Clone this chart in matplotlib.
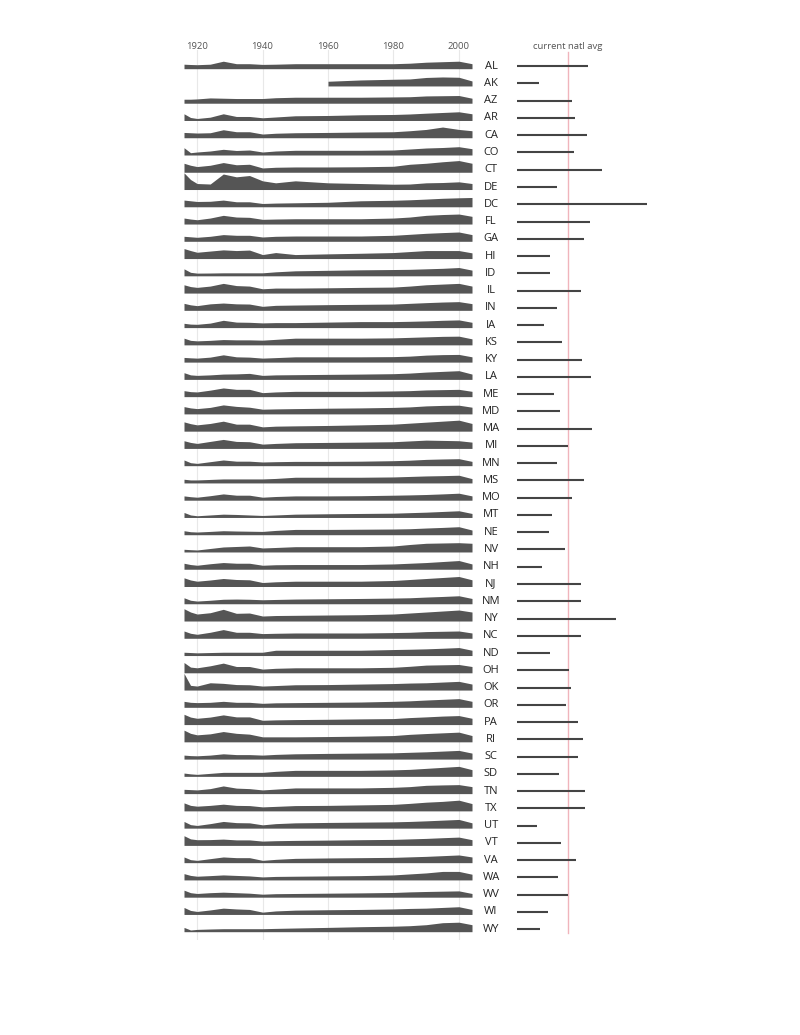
import numpy as np
import matplotlib
matplotlib.use("Agg")
import matplotlib.pyplot as plt
import matplotlib.transforms as mtransforms

nan = np.nan
states = ["AL","AK","AZ","AR","CA","CO","CT","DE","DC","FL","GA","HI","ID","IL","IN","IA","KS",
          "KY","LA","ME","MD","MA","MI","MN","MS","MO","MT","NE","NV","NH","NJ","NM","NY","NC",
          "ND","OH","OK","OR","PA","RI","SC","SD","TN","TX","UT","VT","VA","WA","WV","WI","WY"]

years = [1916, 1918, 1920, 1924, 1928, 1932, 1936, 1940, 1944, 1950, 1960, 1970, 1980, 1985, 1990, 1995, 2000, 2004]

history = {
    "AL": [4.5, 4.2, 4, 4.5, 7.5, 5, 5, 4.3, 4.5, 5, 5, 5, 5, 5.5, 6.5, 7, 7.5, 5],
    "AK": [nan]*10 + [4.7, 6, 6.7, 7, 8.5, 9, 8.7, 5],
    "AZ": [4, 4, 4.3, 5.3, 5, 4.7, 4.7, 4.7, 5.5, 6, 6, 6, 6.3, 6.5, 7.3, 7.5, 7.7, 5],
    "AR": [6.7, 3, 2, 3.3, 6.7, 4, 4, 2.7, 3.5, 4.7, 5, 5.7, 6, 6.5, 7.3, 8, 8.7, 6.7],
    "CA": [5.3, 5, 4.7, 5, 8, 6, 6, 3.7, 4.5, 5, 5.3, 5.7, 6, 7, 8.3, 10.7, 8.3, 7],
    "CO": [7.3, 2.3, 3, 4, 5.7, 4.5, 5, 3, 4, 4.7, 4.7, 4.7, 5, 6, 7, 7.5, 8.3, 6.3],
    "CT": [9, 7, 5.7, 7, 9.7, 7.5, 8, 4.3, 5, 5.3, 5.3, 5.5, 6, 8, 9, 10.5, 11.7, 9],
    "DE": [16.7, 10, 6, 5.5, 15.5, 12.7, 14, 8.7, 6.7, 8.7, 6.7, 6, 5.3, 5.5, 6.7, 7, 7.7, 6],
    "DC": [6.7, 6, 5.3, 5.5, 6.7, 5, 5, 3.3, 3.7, 4, 4.5, 6, 6.5, 7, 7.7, 8.5, 9, 9.3],
    "FL": [6, 5, 4.3, 6, 8.7, 7, 6.7, 4.7, 5, 5.3, 5.3, 5.3, 6, 7, 8.7, 9.5, 10, 7.7],
    "GA": [5, 4.5, 4, 5, 6.7, 6, 6, 4.3, 5, 5.3, 5.3, 5.3, 6, 7, 8, 8.7, 9.3, 6.7],
    "HI": [10, 8, 6.3, 7.5, 8.7, 8, 8.5, 4, 6, 4, 4.7, 5.3, 6, 7, 8, 8, 8, 5.7],
    "ID": [7, 3.5, 2.7, 2.8, 3, 3, 3, 3, 4, 5, 5.5, 6, 6.3, 6.5, 7, 7.5, 8.3, 5.7],
    "IL": [8.3, 6.5, 5.7, 7, 9.7, 7.5, 7, 4.3, 5, 5, 5.3, 5.7, 6, 7, 8.3, 9, 9.7, 7],
    "IN": [7, 5.5, 4.7, 6.5, 7.3, 6.5, 6.3, 4, 5, 5.3, 5.7, 6, 6.3, 7, 7.7, 8.3, 8.7, 6.7],
    "IA": [4.3, 3.5, 3.3, 4.5, 7.3, 5.5, 5.3, 4.7, 5, 5, 5.5, 6, 6, 6.3, 6.7, 7.3, 7.7, 5.3],
    "KS": [6.7, 4.5, 4, 4.5, 5.3, 5, 5, 4.7, 5.5, 6.7, 6.7, 6.7, 7, 7.5, 8, 8.5, 8.7, 6],
    "KY": [4.7, 4.3, 4, 5, 7.3, 5.3, 5, 4, 4.5, 5.3, 5.3, 5.3, 5.5, 6, 7, 7.5, 7.7, 5.3],
    "LA": [6.7, 4.5, 4, 4.5, 5.3, 5.5, 6, 4, 4.5, 4.7, 5, 5.3, 5.7, 6.3, 7.3, 8, 8.7, 5.3],
    "ME": [6, 5, 4.7, 6.5, 8.7, 7.3, 7.3, 4, 4.7, 5.3, 5.3, 5.3, 5.7, 6, 6.7, 7, 7.3, 5.3],
    "MD": [7.3, 6, 5.3, 6.5, 9, 7.5, 6.7, 4.7, 5, 5.3, 5.7, 6, 6.5, 7, 8, 8.5, 8.7, 6.7],
    "MA": [9.3, 7.5, 6.3, 7.7, 10, 7, 7, 4.3, 5, 5.3, 5.7, 6.3, 7, 8, 9, 10, 11, 7.7],
    "MI": [7.7, 6, 5, 7, 9, 7, 6.7, 4.3, 5, 5.7, 6, 6.3, 6.7, 7.5, 8.3, 8, 7.7, 6.3],
    "MN": [5.7, 3, 2.3, 4, 5.7, 4.5, 4.5, 3.7, 4, 4.3, 4.3, 4.5, 5, 5.5, 6.3, 6.7, 7, 4.3],
    "MS": [3.7, 3, 3, 3.5, 4, 4, 4, 4, 4.5, 5.7, 5.7, 5.7, 6, 6.5, 7, 7.3, 7.7, 4.3],
    "MO": [4.3, 3.5, 3, 4.5, 6.3, 5, 5, 3, 3.7, 4.3, 4.3, 4.5, 5, 5.3, 5.7, 6.3, 7, 4.3],
    "MT": [5, 2.5, 1.7, 2.5, 3.3, 3, 2.5, 2, 2.5, 3.3, 3.7, 4, 4.3, 4.8, 5.3, 6, 6.7, 4],
    "NE": [4, 3, 2.7, 3.3, 4, 3.7, 3.5, 3.3, 4.3, 5.3, 5.3, 5.5, 5.7, 6, 6.7, 7.3, 8, 4.7],
    "NV": [2.7, 2.3, 2, 3.5, 5, 5.5, 6, 4, 4.5, 5.3, 5.3, 5.3, 6, 7.5, 8.7, 9, 9.3, 8.7],
    "NH": [6, 4.7, 4, 5.5, 6.7, 6, 6, 4, 4.5, 4.7, 4.7, 4.7, 5.3, 6, 6.7, 7.7, 8.7, 5.3],
    "NJ": [8.7, 6.5, 5.3, 6.5, 8, 7, 6.7, 4, 4.7, 5.3, 5.3, 5.3, 6, 7, 8, 9, 10, 6.7],
    "NM": [6, 3.5, 2.7, 3.5, 4.5, 4.7, 4.5, 4, 4.3, 4.7, 5, 5.3, 5.7, 6, 6.7, 7.3, 8, 5.3],
    "NY": [12.3, 9, 7, 8.3, 11.7, 7.7, 8, 5, 5.5, 5.7, 6, 6.3, 7, 8, 9, 10, 11, 9],
    "NC": [7.3, 5, 4, 6, 8.7, 6, 6, 4.7, 5, 5.3, 5.3, 5.3, 5.7, 6, 6.7, 7, 7.3, 5.3],
    "ND": [3.3, 3, 2.7, 3, 3.3, 3.3, 3.3, 3.3, 5.3, 5.3, 5.3, 5.3, 6, 6.3, 6.7, 7.3, 8, 5.3],
    "OH": [10.3, 5.7, 5, 7, 9.7, 6.3, 6.3, 3.7, 4.5, 5, 5, 5, 5.5, 6.5, 7.7, 8, 8.3, 6.3],
    "OK": [16.7, 4.7, 4, 7.3, 6.7, 5.5, 5.3, 4, 4.5, 5.3, 5.5, 6, 6.5, 7, 7.3, 8, 8.7, 6],
    "OR": [6, 5, 4.7, 5, 6, 5, 5, 4, 4.5, 4.7, 5, 5.3, 6, 6.5, 7.3, 8, 8.7, 6],
    "PA": [10.3, 7.5, 6.3, 7.5, 9.7, 7.7, 7.7, 4.3, 4.7, 5, 5.3, 5.7, 6, 7, 7.7, 8.5, 9, 6.3],
    "RI": [11.7, 8.5, 7, 8, 10.3, 8.5, 7.7, 5, 5, 5, 5.3, 5.7, 6.3, 7.5, 8.3, 9, 9.7, 6.3],
    "SC": [4, 3.5, 3.3, 4, 5.3, 4.5, 4.5, 4, 4.7, 5.3, 5.7, 6, 6.3, 6.8, 7.3, 8, 8.7, 6],
    "SD": [3.3, 2.5, 2, 3, 4, 4, 4, 4, 5, 6, 6, 6, 6.5, 7, 8, 9, 10, 6.7],
    "TN": [4.3, 4, 3.7, 5, 7.7, 5.5, 5, 3.7, 4.5, 5.7, 5.7, 5.7, 6.3, 7, 8.3, 8.7, 9, 7],
    "TX": [8, 5.5, 4.7, 5.5, 6.7, 5.5, 5.3, 4, 4.5, 5.3, 5.5, 6, 6.5, 7.5, 8.7, 9.5, 10.7, 7.3],
    "UT": [6.7, 3.5, 2.7, 4.5, 6.7, 5.5, 5.3, 3.3, 4.5, 5.3, 5.7, 6, 6.3, 6.7, 7.3, 8, 8.7, 5.3],
    "VT": [9.7, 6.5, 5.7, 5.8, 6.3, 5.5, 5.5, 4.3, 4.7, 5, 5.3, 5.7, 6, 6.5, 7, 7.7, 8.3, 5.7],
    "VA": [5.7, 3, 2.3, 4, 5.7, 5, 5, 2.3, 3.3, 4.3, 4.7, 5, 5.3, 5.8, 6.3, 7, 7.7, 5.7],
    "WA": [6.3, 4.5, 3.7, 4.3, 5, 4.5, 4, 3, 3.5, 3.7, 4, 4.3, 5, 6, 7, 8.5, 8.5, 5.7],
    "WV": [7, 4.5, 3.7, 4.5, 5, 4.5, 4, 3, 3.5, 3.7, 4, 4.3, 4.7, 5.3, 5.7, 6, 6.3, 3.7],
    "WI": [7, 4, 3, 4.5, 6.3, 5.5, 5, 2.3, 3.5, 4.3, 4.7, 5, 5.5, 6, 6.3, 7, 7.7, 5],
    "WY": [4.3, 1.7, 2.3, 2.7, 3, 3, 3, 3, 3.3, 3.7, 4.3, 5, 5.5, 6, 7, 9, 9.5, 7],
}

current = [7.1, 2.2, 5.5, 5.8, 7.0, 5.7, 8.5, 4.0, 13.0, 7.3, 6.7, 3.3, 3.3, 6.4, 4.0, 2.7, 4.5,
           6.5, 7.4, 3.7, 4.3, 7.5, 5.1, 4.0, 6.7, 5.5, 3.5, 3.2, 4.8, 2.5, 6.4, 6.4, 9.9, 6.4,
           3.3, 5.2, 5.4, 4.9, 6.1, 6.6, 6.1, 4.2, 6.8, 6.8, 2.0, 4.4, 5.9, 4.1, 5.1, 3.1, 2.3]
natl_avg = 5.1
tick_years = [1920, 1940, 1960, 1980, 2000]

W, H = 800, 1035
fig = plt.figure(figsize=(8, 10.35), dpi=100)

row_h = 17.26
top_px, bot_px = 50, 940
first_base_px = 68.7
n = len(states)
span = bot_px - top_px

def fig_rect(x0, x1):
    return [x0 / W, 1 - bot_px / H, (x1 - x0) / W, span / H]

ylim = (-(n - 1) * row_h - (bot_px - (first_base_px + (n - 1) * row_h)), first_base_px - top_px)

ax = fig.add_axes(fig_rect(184, 472))
ax.set_xlim(1916, 2004)
ax.set_ylim(*ylim)
for i, s in enumerate(states):
    base = -i * row_h
    vals = np.array(history[s], dtype=float)
    ax.fill_between(years, base, base + vals, where=~np.isnan(vals), color="#555555",
                    linewidth=0, zorder=2)
ax.set_xticks(tick_years)
ax.set_xticklabels([str(y) for y in tick_years])
ax.xaxis.tick_top()
ax.tick_params(axis="x", length=0, pad=-1.0, labelsize=6.8, labelcolor="#555555")
ax.set_yticks([])
ax.grid(axis="x", color="#e8e8e8", linewidth=0.8, zorder=0)
for sp in ax.spines.values():
    sp.set_visible(False)
for lbl in ax.get_xticklabels():
    lbl.set_fontfamily("Open Sans")

axb = fig.add_axes(fig_rect(517, 700))
axb.set_xlim(0, 18.3)
axb.set_ylim(*ylim)
bar_y = [-i * row_h + 2.5 for i in range(n)]
axb.hlines(bar_y, 0, current, color="#444444", linewidth=1.5, zorder=3)
axb.axvline(natl_avg, ymin=(bot_px - 933) / span, ymax=(bot_px - 52) / span,
            color="#f0b4bc", linewidth=1, zorder=2)
axb.set_xticks([natl_avg])
axb.set_xticklabels(["current natl avg"])
axb.xaxis.tick_top()
axb.tick_params(axis="x", length=0, pad=-1.0, labelsize=6.8, labelcolor="#555555")
for lbl in axb.get_xticklabels():
    lbl.set_fontfamily("Open Sans")
axb.set_yticks([])
for sp in axb.spines.values():
    sp.set_visible(False)
axb.patch.set_alpha(0)

tr = mtransforms.blended_transform_factory(fig.transFigure, axb.transData)
for i, s in enumerate(states):
    fig.text(491 / W, bar_y[i], s, transform=tr, ha="center", va="center",
             fontsize=8, color="#222222", fontfamily="Open Sans")

fig.savefig("out.png", dpi=100)
